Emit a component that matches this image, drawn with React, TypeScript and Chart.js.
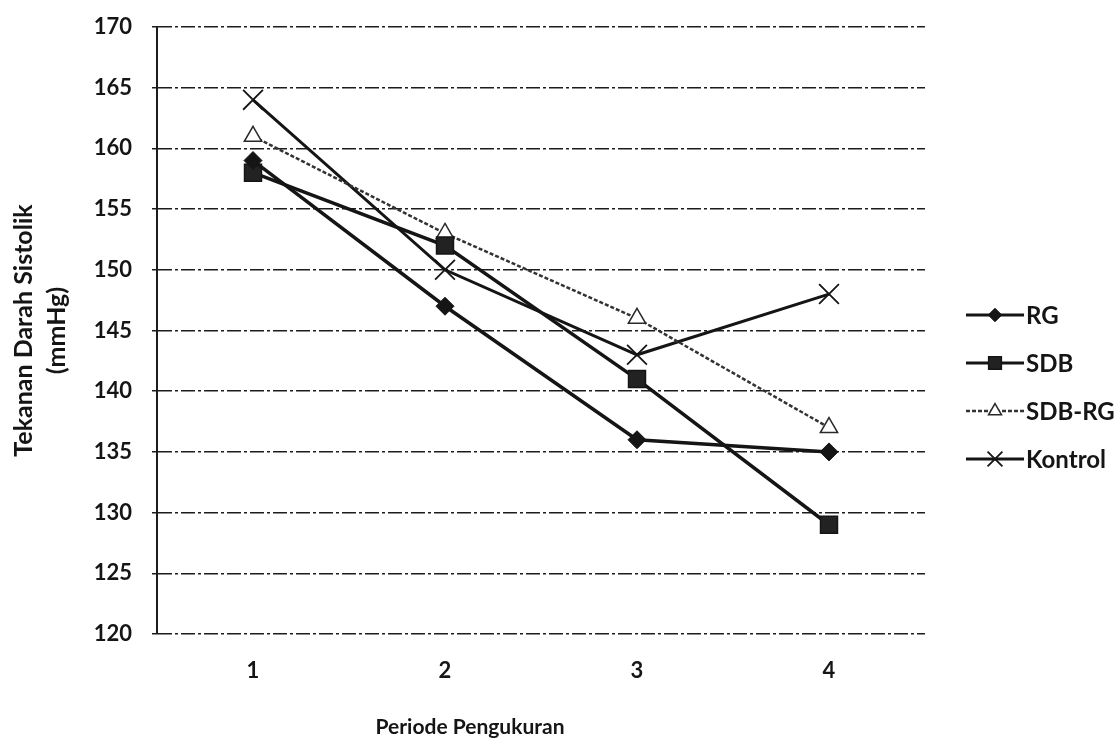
import React, { useEffect, useRef } from 'react';
import { Chart, registerables } from 'chart.js';
import { drawPoint } from 'chart.js/helpers';

Chart.register(...registerables);

// Measurement periods and systolic pressure (mmHg) per group
const periods = ['1', '2', '3', '4'];
const rgValues = [159, 147, 136, 135];
const sdbValues = [158, 152, 141, 129];
const sdbRgValues = [161, 153, 146, 137];
const kontrolValues = [164, 150, 143, 148];
const seriesNames = ['RG', 'SDB', 'SDB-RG', 'Kontrol'];
const yTitleLines = ['Tekanan Darah Sistolik', '(mmHg)'];
const xTitle = 'Periode Pengukuran';
const yMin = 120;
const yMax = 170;
const yStep = 5;

const FONT = 'Lato, "Open Sans", "DejaVu Sans", sans-serif';
const INK = '#151515';

// Legend at the right side (line + marker + label) and the x-axis title
const sideDecor = {
  id: 'sideDecor',
  afterDraw(chart: any) {
    const { ctx } = chart;
    ctx.save();
    chart.data.datasets.forEach((ds: any, i: number) => {
      const y = 315 + i * 48;
      const x0 = 966;
      const x1 = 1024;
      const xm = 995;
      ctx.strokeStyle = ds.borderColor;
      ctx.lineWidth = Math.min(ds.borderWidth, 3);
      ctx.setLineDash(ds.borderDash || []);
      ctx.beginPath();
      ctx.moveTo(x0, y);
      ctx.lineTo(x1, y);
      ctx.stroke();
      ctx.setLineDash([]);
      ctx.fillStyle = ds.pointBackgroundColor;
      ctx.strokeStyle = ds.pointBorderColor;
      ctx.lineWidth = ds.pointBorderWidth;
      drawPoint(
        ctx,
        {
          pointStyle: ds.pointStyle,
          radius: ds.pointRadius * 0.75,
          rotation: 0,
          borderWidth: ds.pointBorderWidth,
        } as any,
        xm,
        y
      );
      ctx.fillStyle = INK;
      ctx.font = `bold 24px ${FONT}`;
      ctx.textBaseline = 'middle';
      ctx.textAlign = 'left';
      ctx.fillText(ds.label, 1026, y + 1);
    });
    ctx.font = `bold 21px ${FONT}`;
    ctx.textAlign = 'center';
    ctx.textBaseline = 'middle';
    ctx.fillStyle = INK;
    ctx.fillText(xTitle, 470, 727);
    ctx.restore();
  },
};

export default function App() {
  const canvasRef = useRef<HTMLCanvasElement | null>(null);

  useEffect(() => {
    document.body.style.margin = '0';
    const canvas = canvasRef.current;
    if (!canvas) return;

    const lineSeries = [
      {
        label: seriesNames[0],
        data: rgValues,
        borderColor: INK,
        borderWidth: 3.5,
        pointStyle: 'rectRot',
        pointRadius: 9,
        pointBackgroundColor: INK,
        pointBorderColor: INK,
        pointBorderWidth: 1,
      },
      {
        label: seriesNames[1],
        data: sdbValues,
        borderColor: INK,
        borderWidth: 3.5,
        pointStyle: 'rect',
        pointRadius: 12,
        pointBackgroundColor: '#222',
        pointBorderColor: INK,
        pointBorderWidth: 1.5,
      },
      {
        label: seriesNames[2],
        data: sdbRgValues,
        borderColor: '#333333',
        borderWidth: 2.5,
        borderDash: [4, 2],
        pointStyle: 'triangle',
        pointRadius: 10,
        pointBackgroundColor: '#ffffff',
        pointBorderColor: '#2a2a2a',
        pointBorderWidth: 1.5,
      },
      {
        label: seriesNames[3],
        data: kontrolValues,
        borderColor: INK,
        borderWidth: 3,
        pointStyle: 'crossRot',
        pointRadius: 14,
        pointBackgroundColor: INK,
        pointBorderColor: INK,
        pointBorderWidth: 1.8,
      },
    ];

    const chart = new Chart(canvas, {
      type: 'line',
      data: {
        labels: periods,
        datasets: lineSeries.map((s) => ({
          ...s,
          tension: 0,
          fill: false,
          pointHoverRadius: s.pointRadius,
        })) as any,
      },
      plugins: [sideDecor],
      options: {
        animation: false,
        responsive: true,
        maintainAspectRatio: false,
        layout: { padding: { top: 27, right: 189, bottom: 0, left: 0 } },
        plugins: {
          legend: { display: false },
          tooltip: { enabled: false },
        },
        scales: {
          x: {
            type: 'category',
            offset: true,
            grid: { display: false },
            border: { display: false },
            ticks: {
              padding: 16,
              color: INK,
              font: { family: FONT, size: 22, weight: 'bold' },
            },
            afterFit(scale: any) {
              scale.height = 106;
            },
          },
          y: {
            min: yMin,
            max: yMax,
            ticks: {
              stepSize: yStep,
              padding: 20,
              color: INK,
              font: { family: FONT, size: 22, weight: 'bold' },
            },
            grid: {
              color: '#1c1c1c',
              lineWidth: 1.5,
              tickLength: 5,
              tickColor: '#1c1c1c',
            },
            // border.dash also sets the dash pattern of the grid lines
            border: {
              display: true,
              color: '#1c1c1c',
              width: 2,
              dash: [14, 3, 3, 3],
            },
            title: {
              display: true,
              text: yTitleLines,
              color: INK,
              padding: { top: 8, bottom: 0 },
              font: { family: FONT, size: 25, weight: 'bold', lineHeight: 1.3 },
            },
            afterFit(scale: any) {
              scale.width = 157;
              scale.paddingTop = 0;
              scale.paddingBottom = 0;
            },
          },
        },
      } as any,
    });

    return () => chart.destroy();
  }, []);

  return (
    <div style={{ width: 1114, height: 740, position: 'relative', background: '#fff' }}>
      <canvas ref={canvasRef} />
    </div>
  );
}
